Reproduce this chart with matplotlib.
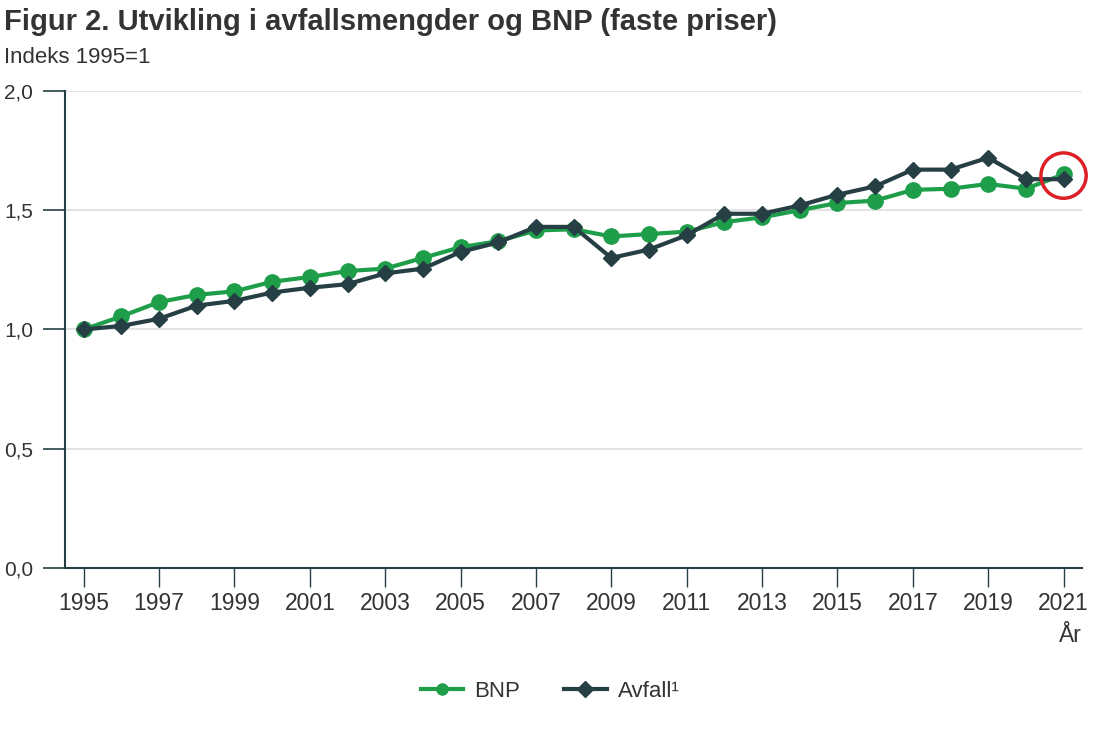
import matplotlib
matplotlib.use("Agg")
import matplotlib.pyplot as plt
from matplotlib.patches import Ellipse

plt.rcParams['font.family'] = ['Liberation Sans', 'DejaVu Sans']

years = list(range(1995, 2022))
bnp = [1.00, 1.055, 1.115, 1.145, 1.16, 1.20, 1.22, 1.245, 1.255, 1.30,
       1.345, 1.37, 1.415, 1.42, 1.39, 1.40, 1.41, 1.45, 1.47, 1.50,
       1.53, 1.54, 1.585, 1.59, 1.61, 1.59, 1.65]
avfall = [1.00, 1.015, 1.045, 1.10, 1.12, 1.155, 1.175, 1.19, 1.235, 1.255,
          1.325, 1.365, 1.43, 1.43, 1.30, 1.335, 1.395, 1.485, 1.485, 1.52,
          1.565, 1.60, 1.67, 1.67, 1.72, 1.63, 1.63]
yticks = [0.0, 0.5, 1.0, 1.5, 2.0]
ytick_labels = ["0,0", "0,5", "1,0", "1,5", "2,0"]
xticks = list(range(1995, 2022, 2))

green = "#1f9e4a"
dark = "#263f45"
text_c = "#333333"

fig = plt.figure(figsize=(11, 7.33), dpi=100)
ax = fig.add_axes([0.059, 0.225, 0.925, 0.651])

ax.plot(years, bnp, color=green, lw=3, marker="o", ms=11, label="BNP", zorder=3)
ax.plot(years, avfall, color=dark, lw=3, marker="D", ms=8, label="Avfall¹", zorder=4)

ax.set_xlim(1994.5, 2021.5)
ax.set_ylim(0, 2.0)
ax.set_yticks(yticks)
ax.set_yticklabels(ytick_labels)
ax.set_xticks(xticks)
ax.set_xticklabels([str(x) for x in xticks])
ax.grid(axis="y", color="#dddddd", lw=1.2)
ax.set_axisbelow(True)
for s in ["top", "right"]:
    ax.spines[s].set_visible(False)
ax.spines["left"].set_color(dark)
ax.spines["bottom"].set_color(dark)
ax.spines["left"].set_linewidth(1.5)
ax.spines["bottom"].set_linewidth(1.5)
ax.tick_params(axis="y", length=16, width=1.2, color=dark, labelsize=15, labelcolor=text_c, pad=7)
ax.tick_params(axis="x", length=14, width=1.0, color=dark, labelsize=16.5, labelcolor=text_c, pad=3)

# red circle highlight around the last point
circ = Ellipse((years[-1], (bnp[-1] + avfall[-1]) / 2 + 0.005), width=1.2, height=0.19,
               fill=False, edgecolor="#dd1f26", lw=2.5, zorder=5, clip_on=False)
ax.add_patch(circ)

fig.text(0.004, 0.959, "Figur 2. Utvikling i avfallsmengder og BNP (faste priser)",
         fontsize=21, fontweight="bold", color=text_c, va="baseline")
fig.text(0.004, 0.914, "Indeks 1995=1", fontsize=16, color=text_c, va="baseline")
fig.text(0.983, 0.124, "År", fontsize=16.5, color=text_c, ha="right", va="baseline")

leg = fig.legend(loc="center", bbox_to_anchor=(0.5, 0.057), ncol=2, frameon=False,
                 fontsize=16, handlelength=1.9, columnspacing=2.0, handletextpad=0.5)
for h in leg.legend_handles:
    h.set_markersize(8)
for t in leg.get_texts():
    t.set_color(text_c)

fig.savefig("out.png", dpi=100)
